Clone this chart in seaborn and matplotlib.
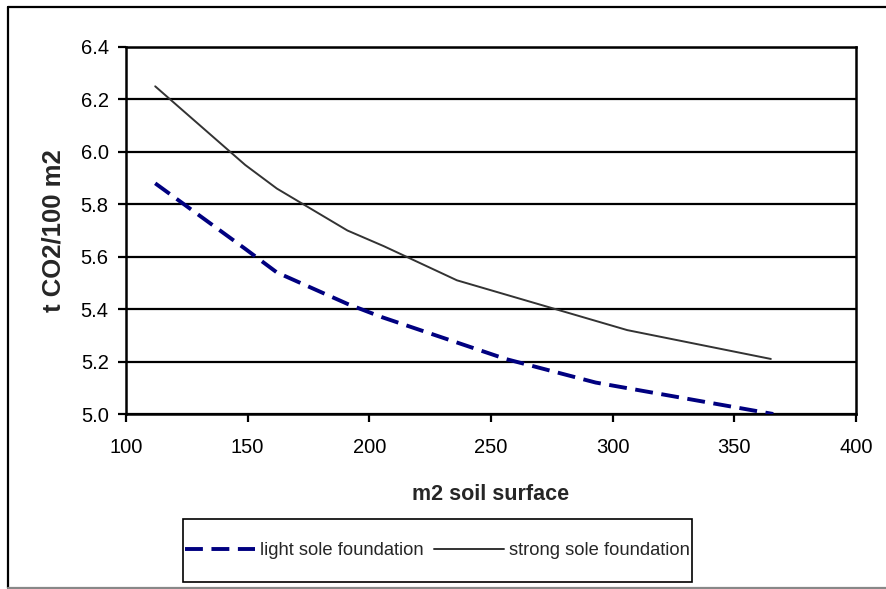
import matplotlib
matplotlib.use("Agg")
import matplotlib.pyplot as plt
from matplotlib.lines import Line2D
from matplotlib.patches import Rectangle
from matplotlib.ticker import FormatStrFormatter
import seaborn as sns
import pandas as pd

# Emissions per 100 m2 against soil surface for two foundation types
light_x = [112, 149, 162, 191, 205, 256, 293, 366]
light_y = [5.88, 5.63, 5.54, 5.42, 5.37, 5.21, 5.12, 5.00]
strong_x = [112, 149, 162, 191, 206, 236, 306, 365]
strong_y = [6.25, 5.95, 5.86, 5.70, 5.64, 5.51, 5.32, 5.21]

series_names = ["light sole foundation", "strong sole foundation"]
x_label = "m2 soil surface"
y_label = "t CO2/100 m2"
x_ticks = [100, 150, 200, 250, 300, 350, 400]
y_ticks = [5.0, 5.2, 5.4, 5.6, 5.8, 6.0, 6.2, 6.4]

sns.set_theme(style="white")
plt.rcParams["font.family"] = ["Liberation Sans", "DejaVu Sans"]

W, H = 887, 589
fig = plt.figure(figsize=(W / 100, H / 100), dpi=100)
fig.patch.set_facecolor("white")
ax = fig.add_axes([126 / W, 1 - 414 / H, (856 - 126) / W, (414 - 47) / H])

light = pd.DataFrame({"x": light_x, "y": light_y})
strong = pd.DataFrame({"x": strong_x, "y": strong_y})

light_style = dict(color="#000080", linewidth=2.8, linestyle=(0, (4.6, 2.2)))
strong_style = dict(color="#333333", linewidth=1.4)

sns.lineplot(data=light, x="x", y="y", ax=ax, sort=False, zorder=4, **light_style)
sns.lineplot(data=strong, x="x", y="y", ax=ax, sort=False, zorder=4, **strong_style)

ax.set_xlim(100, 400)
ax.set_ylim(5.0, 6.4)
ax.set_xticks(x_ticks)
ax.set_yticks(y_ticks)
ax.yaxis.set_major_formatter(FormatStrFormatter("%.1f"))
ax.tick_params(axis="both", direction="out", length=6, width=1.6, color="black",
               labelsize=14.5, labelcolor="black",
               bottom=True, left=True)
ax.tick_params(axis="x", pad=11)
ax.tick_params(axis="y", pad=6.5)

ax.grid(axis="y", color="black", linewidth=1.6)
ax.grid(axis="x", visible=False)
ax.set_axisbelow(True)
for side in ["left", "right", "top", "bottom"]:
    ax.spines[side].set_visible(True)
    ax.spines[side].set_color("black")
    ax.spines[side].set_linewidth(1.8)

ax.set_xlabel(x_label, fontsize=15.5, fontweight="bold", labelpad=20)
ax.set_ylabel(y_label, fontsize=18.5, fontweight="bold", labelpad=11)

# legend: entries in one row inside a plain rectangular box
handles = [Line2D([], [], **light_style), Line2D([], [], **strong_style)]
leg = fig.legend(handles, series_names, loc="center left",
                 bbox_to_anchor=(185 / W, 1 - 550.5 / H), ncol=2,
                 fontsize=13.2, frameon=False, handlelength=3.8,
                 handletextpad=0.3, columnspacing=0.55, borderpad=0,
                 borderaxespad=0)
fig.add_artist(Rectangle((183 / W, 1 - 582 / H), 509 / W, 63 / H,
                         transform=fig.transFigure, fill=False,
                         edgecolor="black", linewidth=1.2))

# outer chart frame
fig.add_artist(Line2D([8 / W, 1.0], [1 - 7 / H, 1 - 7 / H],
                      color="black", linewidth=1.6, transform=fig.transFigure))
fig.add_artist(Line2D([8 / W, 8 / W], [1 - 7 / H, 1 / H],
                      color="black", linewidth=1.6, transform=fig.transFigure))
fig.add_artist(Line2D([8 / W, 1.0], [1 / H, 1 / H],
                      color="#888888", linewidth=1.6, transform=fig.transFigure))

fig.savefig("out.png", dpi=100)
